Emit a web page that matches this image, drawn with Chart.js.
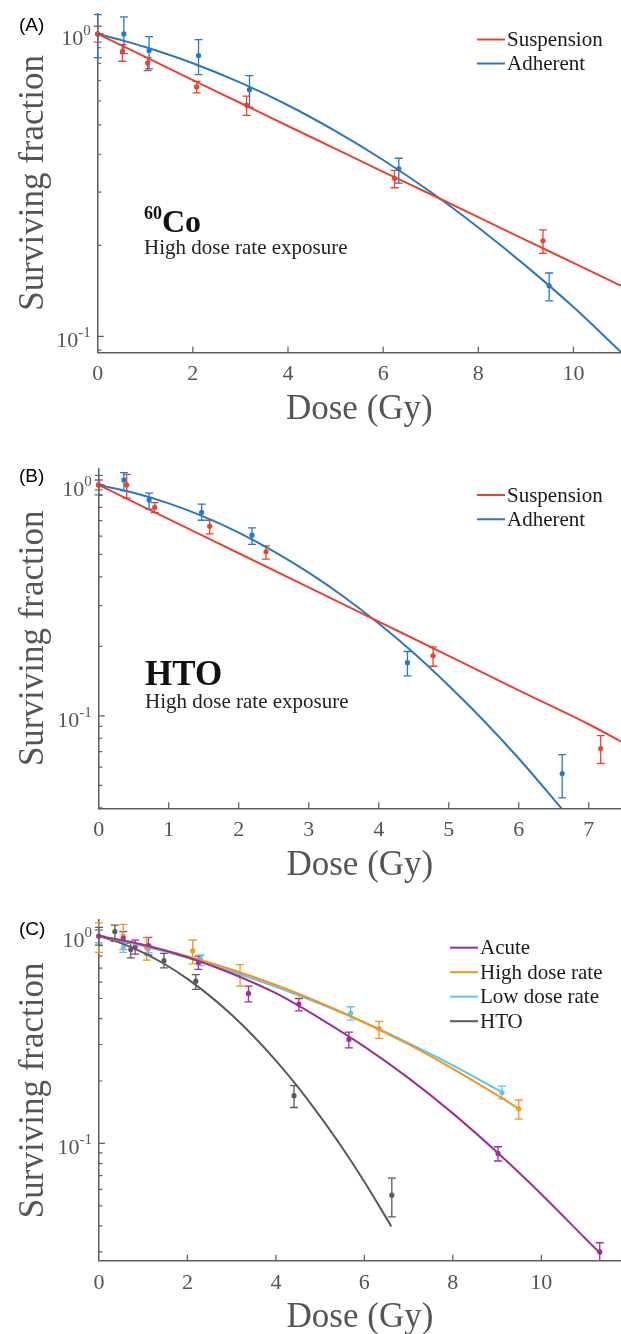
<!DOCTYPE html>
<html>
<head>
<meta charset="utf-8">
<script src="https://cdn.jsdelivr.net/npm/chart.js@4.4.1/dist/chart.umd.min.js"></script>
<style>
  html, body { margin: 0; padding: 0; background: #fff; overflow: hidden; }
  #wrap { position: relative; width: 621px; height: 1334px; }
  canvas { position: absolute; left: 0; }
  .lbl { position: absolute; font-family: 'Liberation Sans', Arial, sans-serif; font-size: 19px; line-height: 19px; color: #000; }
  .ann { position: absolute; font-family: 'Liberation Serif', 'Times New Roman', serif; color: #222; white-space: nowrap; }
</style>
</head>
<body>
<div id="wrap">
  <canvas id="chartA" width="621" height="440" style="top:0px"></canvas>
  <canvas id="chartB" width="621" height="440" style="top:455px"></canvas>
  <canvas id="chartC" width="621" height="440" style="top:907px"></canvas>

  <div class="lbl" style="left:19px; top:15px">(A)</div>
  <div class="lbl" style="left:19px; top:466px">(B)</div>
  <div class="lbl" style="left:19px; top:919px">(C)</div>

  <div class="ann" style="left:144px; top:205px; font-size:32px; line-height:32px; font-weight:bold; color:#111"><span style="font-size:18px; position:relative; top:-13px">60</span>Co</div>
  <div class="ann" style="left:144px; top:237px; font-size:21px; line-height:21px">High dose rate exposure</div>
  <div class="ann" style="left:145px; top:656px; font-size:35px; line-height:35px; font-weight:bold; color:#111">HTO</div>
  <div class="ann" style="left:145px; top:691px; font-size:21px; line-height:21px">High dose rate exposure</div>
</div>

<script>
// ---------- (A) 60Co, high dose rate ----------
const doseA_susp = [0, 0.52, 1.05, 2.08, 3.13, 6.24, 9.36];
const sfA_susp   = [1.0, 0.876, 0.802, 0.668, 0.582, 0.333, 0.207];
const loA_susp   = [0.94, 0.812, 0.756, 0.638, 0.538, 0.310, 0.188];
const hiA_susp   = [1.06, 0.922, 0.837, 0.697, 0.623, 0.354, 0.225];

const doseA_adh = [0, 0.55, 1.08, 2.12, 3.19, 6.33, 9.49];
const sfA_adh   = [1.0, 1.0, 0.881, 0.848, 0.654, 0.358, 0.147];
const loA_adh   = [0.835, 0.861, 0.766, 0.734, 0.573, 0.321, 0.131];
const hiA_adh   = [1.158, 1.138, 0.98, 0.957, 0.728, 0.388, 0.162];

const fitDoseA_susp = [0, 1, 2, 3, 4, 5, 6, 7, 8, 9, 10, 11];
const fitA_susp     = [1.0, 0.840, 0.703, 0.591, 0.496, 0.417, 0.350, 0.295, 0.248, 0.208, 0.175, 0.147];
const fitDoseA_adh  = [0, 0.5, 1, 2, 3, 4, 5, 6, 7, 8, 9, 10, 11];
const fitA_adh      = [1.0, 0.954, 0.905, 0.800, 0.690, 0.581, 0.477, 0.383, 0.300, 0.229, 0.171, 0.125, 0.0887];

// ---------- (B) HTO, high dose rate ----------
const doseB_susp = [0, 0.40, 0.80, 1.585, 2.39, 4.776, 7.17];
const sfB_susp   = [1.0, 1.0, 0.80, 0.662, 0.513, 0.182, 0.0722];
const loB_susp   = [0.951, 0.876, 0.759, 0.614, 0.477, 0.164, 0.0622];
const hiB_susp   = [1.05, 1.11, 0.838, 0.703, 0.545, 0.199, 0.0822];

const doseB_adh = [0, 0.36, 0.72, 1.47, 2.19, 4.41, 6.62];
const sfB_adh   = [1.0, 1.051, 0.861, 0.761, 0.606, 0.170, 0.0563];
const loB_adh   = [0.905, 0.945, 0.785, 0.703, 0.553, 0.149, 0.0442];
const hiB_adh   = [1.10, 1.13, 0.921, 0.825, 0.651, 0.190, 0.068];

const fitDoseB_susp = [0, 1, 2, 3, 4, 5, 6, 7, 7.46];
const fitB_susp     = [1.0, 0.711, 0.506, 0.360, 0.256, 0.182, 0.129, 0.092, 0.0774];
const fitDoseB_adh  = [0, 0.5, 1, 1.5, 2, 2.5, 3, 3.5, 4, 4.5, 5, 5.5, 6, 6.61];
const fitB_adh      = [1.0, 0.925, 0.832, 0.729, 0.622, 0.516, 0.417, 0.328, 0.251, 0.187, 0.135, 0.0953, 0.0654, 0.0398];

// ---------- (C) comparison ----------
const doseC_acute = [0, 0.55, 0.82, 1.12, 2.25, 3.38, 4.52, 5.65, 9.02, 11.32];
const sfC_acute   = [1.0, 0.975, 0.888, 0.90, 0.745, 0.529, 0.470, 0.3175, 0.0895, 0.030];
const loC_acute   = [0.93, 0.922, 0.819, 0.81, 0.69, 0.482, 0.436, 0.289, 0.0823, 0.0268];
const hiC_acute   = [1.07, 1.05, 0.956, 0.985, 0.80, 0.574, 0.50, 0.344, 0.0964, 0.0332];

const doseC_ldr = [0, 0.55, 1.12, 2.3, 5.69, 9.11];
const sfC_ldr   = [1.0, 0.882, 0.872, 0.77, 0.424, 0.176];
const loC_ldr   = [0.93, 0.834, 0.831, 0.72, 0.393, 0.164];
const hiC_ldr   = [1.07, 0.922, 0.905, 0.81, 0.456, 0.189];

const fitDoseC_acute = [0, 1, 2, 3, 4, 5, 6, 7, 8, 9, 10, 11, 11.35];
const fitC_acute     = [1.0, 0.907, 0.790, 0.660, 0.530, 0.400, 0.293, 0.2065, 0.1396, 0.0906, 0.0569, 0.0347, 0.0292];
const fitDoseC_hdr   = [0, 0.5, 1, 2, 3, 4, 5, 6, 7, 8, 9, 9.5];
const fitC_hdr       = [1.0, 0.954, 0.905, 0.800, 0.690, 0.581, 0.477, 0.383, 0.300, 0.229, 0.171, 0.1466];
const fitDoseC_ldr   = [0, 1, 2, 3, 4, 5, 6, 7, 8, 9, 9.1];
const fitC_ldr       = [1.0, 0.895, 0.785, 0.675, 0.569, 0.471, 0.383, 0.3045, 0.238, 0.182, 0.177];

// tick values
const xTicksA = [2, 4, 6, 8, 10];
const xTicksB = [1, 2, 3, 4, 5, 6, 7];
const xTicksC = [2, 4, 6, 8, 10];
const yMajor = [0.1, 1];
const yMinorA = [0.09, 0.2, 0.3, 0.4, 0.5, 0.6, 0.7, 0.8, 0.9];
const yMinorB = [0.04, 0.05, 0.06, 0.07, 0.08, 0.09, 0.2, 0.3, 0.4, 0.5, 0.6, 0.7, 0.8, 0.9];
const yMinorC = [0.03, 0.04, 0.05, 0.06, 0.07, 0.08, 0.09, 0.2, 0.3, 0.4, 0.5, 0.6, 0.7, 0.8, 0.9];

const red = '#e8432e', blue = '#2a77c2', purple = '#9e2f98';
const orange = '#f7941d', sky = '#5cc6ef', grey = '#5a5a5a';
const axisColor = '#5c5c5c';
const serif = "'Liberation Serif', 'Times New Roman', serif";

function pairs(xs, ys) {
  return xs.map(function (x, i) { return { x: x, y: ys[i] }; });
}

function curve(label, xs, ys, color) {
  return {
    label: label, data: pairs(xs, ys), showLine: true, inLegend: true,
    borderColor: color, borderWidth: 2, pointRadius: 0,
    cubicInterpolationMode: 'monotone', clip: 0
  };
}

function dots(xs, ys, lo, hi, color) {
  return {
    data: pairs(xs, ys), errLo: lo, errHi: hi,
    backgroundColor: color, borderColor: color,
    pointRadius: 2.6, pointBorderWidth: 0, showLine: false, clip: false
  };
}

// error bars, inward tick marks, 10^n labels and the legend
const extras = {
  id: 'extras',
  beforeDatasetsDraw(chart) {
    const ctx = chart.ctx, a = chart.chartArea;
    const xs = chart.scales.x, ys = chart.scales.y;
    ctx.save();
    ctx.beginPath();
    ctx.rect(a.left - 10, a.top - 10, a.right - a.left + 20, a.bottom - a.top + 10);
    ctx.clip();
    chart.data.datasets.forEach(function (ds) {
      if (!ds.errLo) return;
      ctx.strokeStyle = ds.borderColor;
      ctx.lineWidth = 1.3;
      ds.data.forEach(function (p, j) {
        const px = xs.getPixelForValue(p.x);
        const yl = ys.getPixelForValue(ds.errLo[j]);
        const yh = ys.getPixelForValue(ds.errHi[j]);
        ctx.beginPath();
        ctx.moveTo(px, yl); ctx.lineTo(px, yh);
        ctx.moveTo(px - 4, yl); ctx.lineTo(px + 4, yl);
        ctx.moveTo(px - 4, yh); ctx.lineTo(px + 4, yh);
        ctx.stroke();
      });
    });
    ctx.restore();
  },
  afterDraw(chart, args, o) {
    const ctx = chart.ctx, a = chart.chartArea;
    const xs = chart.scales.x, ys = chart.scales.y;
    ctx.save();
    ctx.strokeStyle = axisColor;
    ctx.lineWidth = 1.2;
    ctx.beginPath();
    o.xTicks.forEach(function (v) {
      const px = xs.getPixelForValue(v);
      ctx.moveTo(px, a.bottom); ctx.lineTo(px, a.bottom - 6);
    });
    o.yMajor.forEach(function (v) {
      const py = ys.getPixelForValue(v);
      ctx.moveTo(a.left, py); ctx.lineTo(a.left + 6, py);
    });
    o.yMinor.forEach(function (v) {
      const py = ys.getPixelForValue(v);
      ctx.moveTo(a.left, py); ctx.lineTo(a.left + 3.5, py);
    });
    ctx.stroke();

    // y labels as 10 with a raised exponent
    ctx.fillStyle = '#555';
    ctx.textAlign = 'right';
    ctx.textBaseline = 'middle';
    o.yMajor.forEach(function (v) {
      const py = ys.getPixelForValue(v);
      const exp = String(Math.round(Math.log10(v)));
      ctx.font = '15px ' + serif;
      const w = ctx.measureText(exp).width;
      ctx.fillText(exp, a.left - 7, py - 3);
      ctx.font = '22px ' + serif;
      ctx.fillText('10', a.left - 7 - w, py + 5);
    });

    // legend
    const lg = o.legend;
    ctx.font = '21px ' + serif;
    ctx.textAlign = 'left';
    ctx.fillStyle = '#1a1a1a';
    let row = 0;
    chart.data.datasets.forEach(function (ds) {
      if (!ds.inLegend) return;
      const y = lg.y + row * lg.dy;
      ctx.strokeStyle = ds.borderColor;
      ctx.lineWidth = 2;
      ctx.beginPath();
      ctx.moveTo(lg.x, y); ctx.lineTo(lg.x + 28, y);
      ctx.stroke();
      ctx.fillText(ds.label, lg.x + 30, y + 1);
      row++;
    });
    ctx.restore();
  }
};

function makePanel(id, datasets, p) {
  return new Chart(document.getElementById(id), {
    type: 'scatter',
    data: { datasets: datasets },
    plugins: [extras],
    options: {
      responsive: false,
      animation: false,
      devicePixelRatio: 1,
      layout: { autoPadding: false, padding: { top: p.padTop, right: 0, bottom: 0, left: 0 } },
      plugins: {
        legend: { display: false },
        tooltip: { enabled: false },
        extras: { xTicks: p.xTicks, yMajor: yMajor, yMinor: p.yMinor, legend: p.legend }
      },
      scales: {
        x: {
          type: 'linear', min: 0, max: p.xMax,
          afterFit: function (s) { s.height = p.xH; },
          border: { display: true, color: axisColor, width: 1.5 },
          grid: { display: false, drawTicks: false },
          ticks: {
            stepSize: p.step, includeBounds: false, autoSkip: false, maxRotation: 0,
            padding: 9, color: '#555', font: { family: serif, size: 22 }
          },
          title: {
            display: true, text: 'Dose (Gy)', color: '#555',
            font: { family: serif, size: 35 }, padding: { top: 0, bottom: p.titlePad }
          }
        },
        y: {
          type: 'logarithmic', min: p.yMin, max: p.yMax,
          afterFit: function (s) { s.width = p.yW; },
          border: { display: true, color: axisColor, width: 1.5 },
          grid: { display: false, drawTicks: false },
          ticks: { display: false },
          title: {
            display: true, text: 'Surviving fraction', color: '#555',
            font: { family: serif, size: 35 }, padding: { top: 13, bottom: 0 }
          }
        }
      }
    }
  });
}

makePanel('chartA', [
  curve('Suspension', fitDoseA_susp, fitA_susp, red),
  curve('Adherent', fitDoseA_adh, fitA_adh, blue),
  dots(doseA_susp, sfA_susp, loA_susp, hiA_susp, red),
  dots(doseA_adh, sfA_adh, loA_adh, hiA_adh, blue)
], {
  padTop: 13.3, xH: 87.6, yW: 97.7, titlePad: 9, xMax: 11, step: 2,
  yMin: 0.0885, yMax: 1.17, xTicks: xTicksA, yMinor: yMinorA,
  legend: { x: 477, y: 39.5, dy: 24 }
});

makePanel('chartB', [
  curve('Suspension', fitDoseB_susp, fitB_susp, red),
  curve('Adherent', fitDoseB_adh, fitB_adh, blue),
  dots(doseB_susp, sfB_susp, loB_susp, hiB_susp, red),
  dots(doseB_adh, sfB_adh, loB_adh, hiB_adh, blue)
], {
  padTop: 13.3, xH: 86.7, yW: 98.7, titlePad: 8, xMax: 7.46, step: 1,
  yMin: 0.0398, yMax: 1.18, xTicks: xTicksB, yMinor: yMinorB,
  legend: { x: 477, y: 40, dy: 24.3 }
});

makePanel('chartC', [
  curve('Acute', fitDoseC_acute, fitC_acute, purple),
  curve('High dose rate', fitDoseC_hdr, fitC_hdr, orange),
  curve('Low dose rate', fitDoseC_ldr, fitC_ldr, sky),
  curve('HTO', fitDoseB_adh, fitB_adh, grey),
  dots(doseC_acute, sfC_acute, loC_acute, hiC_acute, purple),
  dots(doseA_adh, sfA_adh, loA_adh, hiA_adh, orange),
  dots(doseC_ldr, sfC_ldr, loC_ldr, hiC_ldr, sky),
  dots(doseB_adh, sfB_adh, loB_adh, hiB_adh, grey)
], {
  padTop: 13, xH: 86.3, yW: 98.9, titlePad: 8, xMax: 11.8, step: 2,
  yMin: 0.0272, yMax: 1.195, xTicks: xTicksC, yMinor: yMinorC,
  legend: { x: 450, y: 40.7, dy: 24.5 }
});
</script>
</body>
</html>
